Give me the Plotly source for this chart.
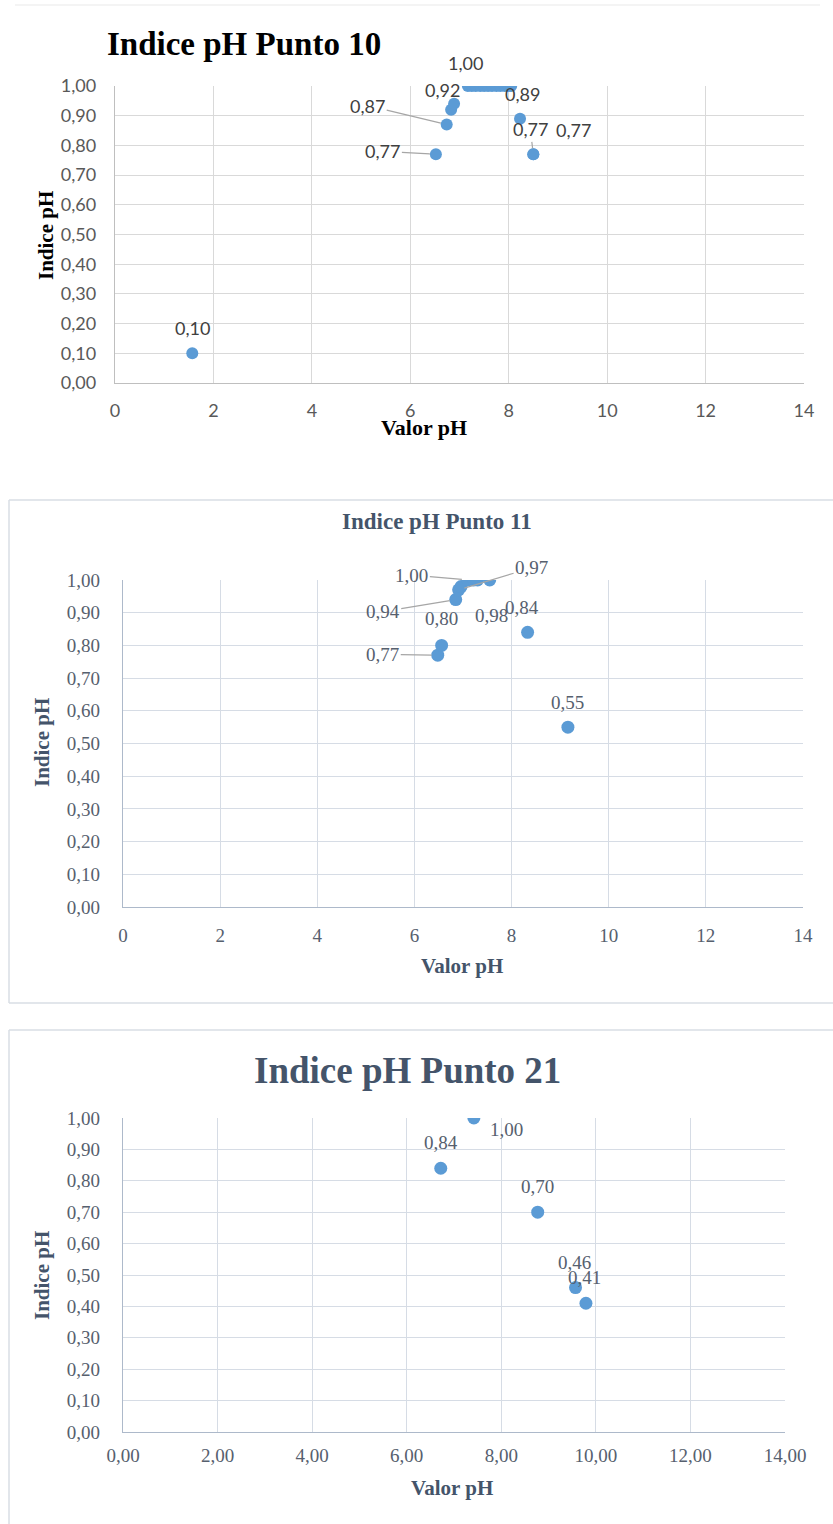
import plotly.graph_objects as go

W, H = 833, 1524

# ---------------- data ----------------
# Punto 10
ph_p10 = [1.57, 6.52, 6.74, 6.83, 6.89, 7.17, 7.25, 7.33, 7.42, 7.50, 7.58,
          7.66, 7.75, 7.83, 7.92, 8.00, 8.05, 8.23, 8.50, 8.50]
idx_p10 = [0.10, 0.77, 0.87, 0.92, 0.94, 1.00, 1.00, 1.00, 1.00, 1.00, 1.00,
           1.00, 1.00, 1.00, 1.00, 1.00, 1.00, 0.89, 0.77, 0.77]
# Punto 11
ph_p11 = [6.48, 6.56, 6.85, 6.91, 6.96, 7.10, 7.22, 7.30, 7.55, 8.33, 9.16]
idx_p11 = [0.77, 0.80, 0.94, 0.97, 0.98, 1.00, 1.00, 1.00, 1.00, 0.84, 0.55]
# Punto 21
ph_p21 = [7.42, 6.72, 8.77, 9.57, 9.79]
idx_p21 = [1.00, 0.84, 0.70, 0.46, 0.41]

titles = ["Indice pH Punto 10", "Indice pH Punto 11", "Indice pH Punto 21"]
x_title = "Valor pH"
y_title = "Indice pH"

# label placement (point index, dx px, dy px, leader line)
lab_p10 = [(0, 0, -25, False), (5, -2, -23, False), (3, -9, -20, False),
           (2, -79, -19, True), (1, -53, -3, True), (17, 2, -25, False),
           (18, -3, -25, True), (19, 40, -24, False)]
lab_p11 = [(0, -55, -1, True), (1, 0, -27, False), (2, -73, 12, True),
           (3, 73, -22, True), (4, 30, 29, False), (5, -56, -5, True),
           (9, -6, -25, False), (10, 0, -25, False)]
lab_p21 = [(0, 33, 11, False), (1, 0, -26, False), (2, 0, -26, False),
           (3, -1, -25, False), (4, -1, -26, False)]


def fmt(v):
    return f"{v:.2f}".replace(".", ",")


def px(xp, yp):
    return xp / W, 1 - yp / H


BLUE = "#5b9bd5"
SLATE = "#44546a"
SLATE_TXT = "#56606e"

fig = go.Figure()
fig.add_trace(go.Scatter(x=ph_p10, y=idx_p10, mode="markers", xaxis="x", yaxis="y",
                         marker=dict(size=12, color=BLUE), hoverinfo="x+y"))
fig.add_trace(go.Scatter(x=ph_p11, y=idx_p11, mode="markers", xaxis="x2", yaxis="y2",
                         marker=dict(size=13, color=BLUE), hoverinfo="x+y"))
fig.add_trace(go.Scatter(x=ph_p21, y=idx_p21, mode="markers", xaxis="x3", yaxis="y3",
                         marker=dict(size=13, color=BLUE), hoverinfo="x+y"))


def xa(l, r, anchor, fontd, grid, line, fmt_=None, standoff=12):
    d = dict(domain=[l / W, r / W], anchor=anchor, range=[0, 14], dtick=2, tick0=0,
             showgrid=True, gridcolor=grid, gridwidth=1, zeroline=False,
             showline=True, linecolor=line, linewidth=1.3, ticks="",
             tickfont=fontd, ticklabelstandoff=standoff, fixedrange=True, automargin=False)
    if fmt_:
        d["tickformat"] = fmt_
    return d


def ya(t, b, anchor, fontd, grid, line, standoff=14):
    return dict(domain=[1 - b / H, 1 - t / H], anchor=anchor, range=[0, 1], dtick=0.1,
                tick0=0, tickformat=".2f", showgrid=True, gridcolor=grid, gridwidth=1,
                zeroline=False, showline=True, linecolor=line, linewidth=1.3, ticks="",
                tickfont=fontd, ticklabelstandoff=standoff, fixedrange=True, automargin=False)


f1 = dict(family="Lato, Open Sans, sans-serif", size=18, color="#595959")
f2 = dict(family="Liberation Serif, serif", size=19, color=SLATE_TXT)


def ptext(text, xx, yy, font, angle=0):
    return dict(text=text, x=px(xx, 0)[0], y=px(0, yy)[1], xref="paper", yref="paper",
                xanchor="center", yanchor="middle", showarrow=False, textangle=angle, font=font)


annotations = [
    ptext(f"<b>{titles[0]}</b>", 244, 44, dict(family="Liberation Serif", size=33, color="#000000")),
    ptext(f"<b>{titles[1]}</b>", 437, 521, dict(family="Liberation Serif", size=23, color=SLATE)),
    ptext(f"<b>{titles[2]}</b>", 407, 1070, dict(family="Liberation Serif", size=37, color=SLATE)),
]
for (xx, yy, size, col) in [(424, 427, 22, "#000000"), (462, 966, 21, SLATE), (452, 1488, 21, SLATE)]:
    annotations.append(ptext(f"<b>{x_title}</b>", xx, yy, dict(family="Liberation Serif", size=size, color=col)))
for (xx, yy, size, col) in [(46, 236, 21, "#000000"), (42, 743, 21, SLATE), (42, 1276, 21, SLATE)]:
    annotations.append(ptext(f"<b>{y_title}</b>", xx, yy, dict(family="Liberation Serif", size=size, color=col), -90))

# data labels
for (xs, ys, labs, xr, yr, font) in [
        (ph_p10, idx_p10, lab_p10, "x", "y", dict(family="Lato, Open Sans, sans-serif", size=18, color="#404040")),
        (ph_p11, idx_p11, lab_p11, "x2", "y2", dict(family="Liberation Serif", size=19, color=SLATE_TXT)),
        (ph_p21, idx_p21, lab_p21, "x3", "y3", dict(family="Liberation Serif", size=19, color=SLATE_TXT))]:
    for (i, dx, dy, leader) in labs:
        if leader:
            annotations.append(dict(text=fmt(ys[i]), x=xs[i], y=ys[i], xref=xr, yref=yr,
                                    ax=dx, ay=dy, showarrow=True, arrowhead=0, arrowwidth=1.2,
                                    arrowcolor="#a6a6a6", standoff=6, font=font))
        else:
            annotations.append(dict(text=fmt(ys[i]), x=xs[i], y=ys[i], xref=xr, yref=yr,
                                    xshift=dx, yshift=-dy, showarrow=False, font=font))


def pline(x0, y0, x1, y1, color, width):
    a, b = px(x0, y0)
    c, d = px(x1, y1)
    return dict(type="line", xref="paper", yref="paper", x0=a, y0=b, x1=c, y1=d,
                line=dict(color=color, width=width))


FR = "#d9dee5"
shapes = [
    pline(15, 5, 820, 5, "#f0f0f0", 1.5),
    # frame of chart 2 (left, top, bottom; right side runs off the page)
    pline(9, 500, 833, 500, FR, 1.5),
    pline(9, 500, 9, 1003, FR, 1.5),
    pline(9, 1003, 833, 1003, FR, 1.5),
    # frame of chart 3
    pline(9, 1030, 833, 1030, FR, 1.5),
    pline(9, 1030, 9, 1524, FR, 1.5),
]

fig.update_layout(
    width=W, height=H, margin=dict(l=0, r=0, t=0, b=0, autoexpand=False),
    paper_bgcolor="white", plot_bgcolor="white", showlegend=False,
    separators=",.",
    xaxis=xa(115, 804, "y", f1, "#d9d9d9", "#bfbfbf", standoff=11),
    yaxis=ya(86, 383, "x", f1, "#d9d9d9", "#bfbfbf", standoff=14),
    xaxis2=xa(123, 803, "y2", f2, "#d6dce5", "#adb9ca", standoff=11),
    yaxis2=ya(580, 907, "x2", f2, "#d6dce5", "#adb9ca", standoff=18),
    xaxis3=xa(123, 785, "y3", f2, "#d6dce5", "#adb9ca", fmt_=".2f", standoff=6),
    yaxis3=ya(1118, 1432, "x3", f2, "#d6dce5", "#adb9ca", standoff=18),
    annotations=annotations, shapes=shapes,
)

fig.write_html("out.html", config={"displayModeBar": False},
               post_script="document.body.style.margin='0';")
